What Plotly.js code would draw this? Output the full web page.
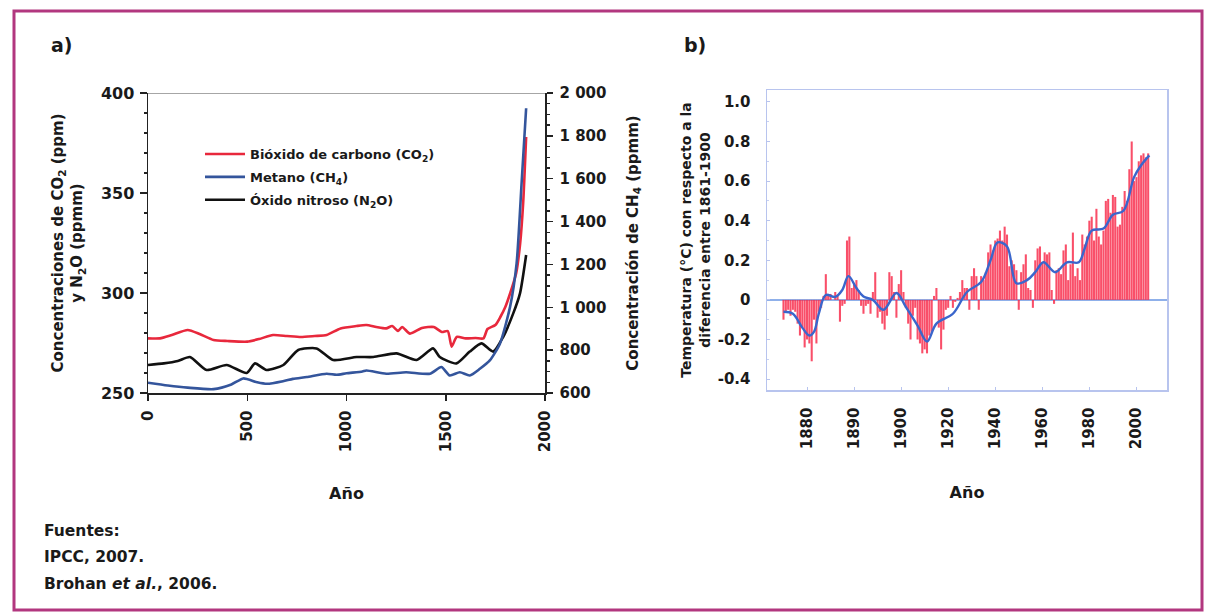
<!DOCTYPE html>
<html>
<head>
<meta charset="utf-8">
<script src="https://cdn.plot.ly/plotly-3.0.1.min.js"></script>
<style>html,body{margin:0;padding:0;background:#fff;}#chart{width:1206px;height:616px;}</style>
</head>
<body>
<div id="chart"></div>
<script>
// ---------- Panel a) greenhouse gas concentrations ----------
const co2Years = [0, 60, 120, 200, 260, 330, 400, 500, 560, 630, 700, 770, 840, 900, 970, 1050, 1100, 1150, 1200, 1230, 1260, 1280, 1320, 1380, 1440, 1480, 1510, 1530, 1555, 1600, 1650, 1690, 1710, 1750, 1775, 1800, 1825, 1855, 1875, 1890, 1905];
const co2Ppm   = [277.3, 277.3, 279, 281.5, 279.5, 276.5, 276, 275.7, 277, 279, 278.5, 278, 278.5, 279, 282.3, 283.5, 284, 283, 282.3, 283.5, 281, 283, 279.7, 282.5, 283, 280.5, 281, 273.2, 278, 277.3, 277.5, 277.3, 282, 284, 288, 293, 300, 310, 325, 345, 378];

const ch4Years = [0, 100, 200, 330, 420, 480, 550, 600, 680, 730, 800, 900, 950, 1000, 1080, 1100, 1200, 1300, 1420, 1478, 1520, 1571, 1621, 1672, 1722, 1773, 1824, 1857, 1883, 1905];
const ch4Ppb   = [648, 635, 625, 618, 640, 668, 650, 643, 655, 666, 675, 690, 685, 692, 700, 705, 690, 697, 690, 721, 682, 697, 682, 713, 752, 830, 1002, 1205, 1594, 1929];

const n2oYears = [0, 80, 150, 211, 295, 396, 497, 539, 597, 682, 757, 849, 933, 1051, 1135, 1252, 1353, 1436, 1470, 1554, 1621, 1680, 1739, 1789, 1840, 1874, 1905];
const n2oPpm   = [264, 264.8, 266, 268, 261.5, 264, 260, 264.8, 261.5, 264, 271.5, 272.3, 266.5, 268, 268, 269.8, 266.5, 272.3, 268, 264.8, 270.7, 274.8, 270.7, 278, 289.8, 299.8, 319];

const leftTickVals  = [250, 300, 350, 400];
const rightTickVals = [600, 800, 1000, 1200, 1400, 1600, 1800, 2000];
const rightTickText = ['600', '800', '1 000', '1 200', '1 400', '1 600', '1 800', '2 000'];
const aXTickVals    = [0, 500, 1000, 1500, 2000];

// ---------- Panel b) temperature anomaly ----------
const tempYears = [];
for (let y = 1850; y <= 2005; y++) tempYears.push(y);
const tempAnom = [
 -0.10, -0.06, -0.05, -0.08, -0.05, -0.06, -0.12, -0.18, -0.14, -0.24,
 -0.20, -0.22, -0.31, -0.10, -0.22, -0.06, -0.04, 0.02, 0.13, 0.02,
 0.03, 0.00, 0.04, 0.02, -0.11, -0.03, -0.02, 0.30, 0.32, 0.06,
 0.08, 0.10, 0.05, -0.03, -0.07, -0.03, -0.02, -0.07, 0.04, 0.14,
 -0.09, -0.06, -0.12, -0.15, -0.08, 0.14, 0.12, 0.04, -0.09, 0.08,
 0.15, 0.04, -0.04, -0.12, -0.20, -0.08, -0.04, -0.20, -0.22, -0.27,
 -0.25, -0.27, -0.18, -0.16, 0.02, 0.06, -0.14, -0.25, -0.15, -0.05,
 -0.04, 0.02, -0.04, -0.01, 0.01, 0.04, 0.10, 0.06, 0.06, -0.05,
 0.12, 0.16, 0.12, -0.05, 0.12, 0.10, 0.14, 0.24, 0.28, 0.25,
 0.30, 0.31, 0.35, 0.30, 0.37, 0.33, 0.17, 0.20, 0.18, 0.15,
 -0.05, 0.14, 0.18, 0.23, 0.06, 0.05, -0.04, 0.20, 0.26, 0.27,
 0.19, 0.24, 0.23, 0.24, 0.05, -0.02, 0.15, 0.16, 0.13, 0.25,
 0.28, 0.10, 0.18, 0.34, 0.12, 0.16, 0.10, 0.33, 0.28, 0.32,
 0.40, 0.42, 0.30, 0.46, 0.32, 0.28, 0.35, 0.50, 0.51, 0.44,
 0.53, 0.52, 0.37, 0.38, 0.47, 0.55, 0.50, 0.66, 0.80, 0.60,
 0.62, 0.70, 0.73, 0.74, 0.72, 0.74
];
const smoothYears = [1850, 1854, 1858, 1861, 1863, 1865, 1868, 1872, 1875, 1877.6, 1881, 1884, 1888, 1892.5, 1898, 1902, 1907, 1911, 1915, 1922, 1928, 1934, 1938, 1941, 1945, 1949, 1953.5, 1957, 1960.5, 1965.5, 1970.5, 1975.5, 1978, 1981, 1986, 1990, 1994.5, 1999, 2002, 2005.5];
const smoothVals  = [-0.06, -0.07, -0.14, -0.18, -0.16, -0.07, 0.025, 0.015, 0.05, 0.12, 0.06, 0.017, 0.0, -0.05, 0.035, -0.035, -0.13, -0.21, -0.12, -0.07, 0.04, 0.09, 0.20, 0.29, 0.27, 0.084, 0.10, 0.14, 0.19, 0.14, 0.19, 0.19, 0.26, 0.35, 0.36, 0.43, 0.45, 0.62, 0.68, 0.73];
const bXTickVals = [1860, 1880, 1900, 1920, 1940, 1960, 1980, 2000];
const bXTickText = ['1880', '1890', '1900', '1920', '1940', '1960', '1980', '2000'];
const bYTickVals = [-0.4, -0.2, 0, 0.2, 0.4, 0.6, 0.8, 1.0];
const bYTickText = ['-0.4', '-0.2', '0', '0.2', '0.4', '0.6', '0.8', '1.0'];

// ---------- layout helpers ----------
const W = 1206, H = 616;
const FONT = 'DejaVu Sans';
const bold = (size, color) => ({family: FONT, size: size, color: color || '#1a1a1a', weight: 'bold'});

const traces = [
  {x: co2Years, y: co2Ppm, type: 'scatter', mode: 'lines', name: 'Bióxido de carbono (CO<sub>2</sub>)',
   line: {color: '#e8283c', width: 2.6, shape: 'spline', smoothing: 0.6}, xaxis: 'x', yaxis: 'y', legendgroup: 'a'},
  {x: ch4Years, y: ch4Ppb, type: 'scatter', mode: 'lines', name: 'Metano (CH<sub>4</sub>)',
   line: {color: '#34559c', width: 2.6, shape: 'spline', smoothing: 0.6}, xaxis: 'x', yaxis: 'y2', legendgroup: 'b'},
  {x: n2oYears, y: n2oPpm, type: 'scatter', mode: 'lines', name: 'Óxido nitroso (N<sub>2</sub>O)',
   line: {color: '#111111', width: 2.6, shape: 'spline', smoothing: 0.6}, xaxis: 'x', yaxis: 'y', legendgroup: 'c'},
  {x: tempYears, y: tempAnom, type: 'bar', name: 'Anomalía anual', showlegend: false,
   marker: {color: 'rgba(248,40,72,0.82)', line: {width: 0}}, xaxis: 'x2', yaxis: 'y3'},
  {x: smoothYears, y: smoothVals, type: 'scatter', mode: 'lines', name: 'Media suavizada', showlegend: false,
   line: {color: '#3a66cc', width: 2.4, shape: 'spline', smoothing: 1}, xaxis: 'x2', yaxis: 'y3'}
];

const layout = {
  width: W, height: H,
  margin: {l: 0, r: 0, t: 0, b: 0},
  paper_bgcolor: '#ffffff', plot_bgcolor: 'rgba(0,0,0,0)',
  font: {family: FONT, color: '#1a1a1a'},
  showlegend: true,
  legend: {x: 200 / W, y: 1 - 139 / H, xanchor: 'left', yanchor: 'top', bgcolor: 'rgba(0,0,0,0)',
           font: bold(13), tracegroupgap: 3, itemwidth: 40},
  bargap: 0.12,
  xaxis: {domain: [148 / W, 545 / W], range: [0, 2000], anchor: 'y',
          tickvals: aXTickVals, tickangle: -90, ticks: 'outside', ticklen: 6, tickwidth: 1.5, tickcolor: '#222',
          showline: true, linecolor: '#222', linewidth: 1.5, showgrid: false, zeroline: false,
          tickfont: bold(15), ticklabelstandoff: 4,
          title: {text: 'Año', font: bold(16), standoff: 36}},
  yaxis: {domain: [1 - 393 / H, 1 - 93 / H], range: [250, 400], anchor: 'x',
          tickvals: leftTickVals, ticks: 'outside', ticklen: 7, tickwidth: 1.5, tickcolor: '#222',
          minor: {dtick: 10, ticks: 'outside', ticklen: 3, tickcolor: '#222', showgrid: false},
          showline: true, linecolor: '#222', linewidth: 1.5, showgrid: false, zeroline: false,
          tickfont: bold(16), ticklabelstandoff: 2,
          title: {text: 'Concentraciones de CO<sub>2</sub> (ppm)<br>y N<sub>2</sub>O (ppmm)', font: bold(15), standoff: 14}},
  yaxis2: {overlaying: 'y', side: 'right', anchor: 'x', range: [600, 2000],
           tickvals: rightTickVals, ticktext: rightTickText, ticks: 'outside', ticklen: 6, tickwidth: 1.5, tickcolor: '#222',
           minor: {dtick: 50, ticks: 'outside', ticklen: 3, tickcolor: '#222', showgrid: false},
           showline: true, linecolor: '#222', linewidth: 1.5, showgrid: false, zeroline: false,
           tickfont: bold(15), ticklabelstandoff: 4,
           title: {text: 'Concentración de CH<sub>4</sub> (ppmm)', font: bold(15), standoff: 22}},
  xaxis2: {domain: [767 / W, 1167 / W], range: [1843, 2013], anchor: 'y3',
           tickvals: bXTickVals, ticktext: bXTickText, tickangle: -90, ticks: 'inside', ticklen: 3, tickcolor: '#b8c4ee',
           showline: true, mirror: true, linecolor: '#b8c4ee', linewidth: 1.5, showgrid: false, zeroline: false,
           tickfont: bold(15), ticklabelstandoff: 10,
           title: {text: 'Año', font: bold(16), standoff: 38}},
  yaxis3: {domain: [1 - 390 / H, 1 - 90 / H], range: [-0.455, 1.06], anchor: 'x2',
           tickvals: bYTickVals, ticktext: bYTickText, ticks: 'inside', ticklen: 3, tickcolor: '#b8c4ee',
           minor: {dtick: 0.1, ticks: 'inside', ticklen: 2, tickcolor: '#c8d2f2'},
           showline: true, mirror: true, linecolor: '#b8c4ee', linewidth: 1.5, showgrid: false,
           zeroline: true, zerolinecolor: '#8fb0ea', zerolinewidth: 1.5,
           tickfont: bold(15), ticklabelstandoff: 12,
           title: {text: 'Temperatura (°C) con respecto a la<br>diferencia entre 1861-1900', font: bold(14), standoff: 4}},
  shapes: [
    {type: 'rect', xref: 'paper', yref: 'paper', x0: 14 / W, x1: 1202 / W, y0: 1 - 610 / H, y1: 1 - 11 / H,
     line: {color: '#b2377f', width: 3}, fillcolor: 'rgba(0,0,0,0)', layer: 'below'},
    {type: 'line', xref: 'x', yref: 'y', x0: 0, x1: 2000, y0: 400, y1: 400, line: {color: '#888', width: 1.5}}
  ],
  annotations: [
    {text: 'a)', xref: 'paper', yref: 'paper', x: 62 / W, y: 1 - 45 / H, showarrow: false, font: bold(19), xanchor: 'center', yanchor: 'middle'},
    {text: 'b)', xref: 'paper', yref: 'paper', x: 695 / W, y: 1 - 45 / H, showarrow: false, font: bold(19), xanchor: 'center', yanchor: 'middle'},
    {text: 'Fuentes:', xref: 'paper', yref: 'paper', x: 42 / W, y: 1 - 531 / H, showarrow: false, font: bold(15.5), xanchor: 'left', yanchor: 'middle'},
    {text: 'IPCC, 2007.', xref: 'paper', yref: 'paper', x: 42 / W, y: 1 - 557 / H, showarrow: false, font: bold(15.5), xanchor: 'left', yanchor: 'middle'},
    {text: 'Brohan <i>et al.</i>, 2006.', xref: 'paper', yref: 'paper', x: 42 / W, y: 1 - 584 / H, showarrow: false, font: bold(15.5), xanchor: 'left', yanchor: 'middle'}
  ]
};

Plotly.newPlot('chart', traces, layout, {displayModeBar: false, staticPlot: true});
</script>
</body>
</html>
